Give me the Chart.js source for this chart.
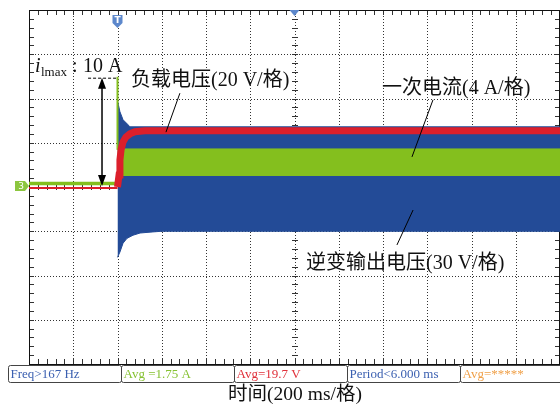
<!DOCTYPE html>
<html>
<head>
<meta charset="utf-8">
<script src="https://cdn.jsdelivr.net/npm/chart.js@4"></script>
<style>
  html, body { margin: 0; padding: 0; background: #fff; }
  #wrap { width: 560px; height: 405px; }
</style>
</head>
<body>
<div id="wrap"><canvas id="scopeChart" width="560" height="405"></canvas></div>
<script>
// Oscilloscope capture: time in ms (200 ms/div), amplitude in divisions

// inverter output voltage (blue envelope)
const blueTopT = [400, 411, 425, 447, 456, 2400];
const blueTopV = [1.95, 1.70, 1.52, 1.41, 1.36, 1.36];
const blueBotT = [400, 411, 425, 443, 470, 502, 547, 600, 2400];
const blueBotV = [-1.59, -1.47, -1.27, -1.16, -1.09, -1.04, -1.02, -1.00, -1.00];

// primary current (green)
const greenPreT = [0, 400];
const greenPreV = [0.08, 0.08];
const greenSpikeT = [400, 400];
const greenSpikeV = [0.84, 2.49];
const greenTopT = [400, 2400];
const greenTopV = [0.86, 0.86];
const greenBotT = [400, 2400];
const greenBotV = [0.26, 0.26];

// load voltage (red)
const redPreT = [0, 400];
const redPreV = [-0.02, -0.02];
const redT = [400, 407, 411, 416, 425, 438, 456, 479, 524, 2400];
const redV = [0.00, 0.27, 0.61, 0.84, 1.02, 1.13, 1.20, 1.25, 1.27, 1.27];

// measurement readouts
const readouts = [
  { text: 'Freq>167 Hz', color: '#3a5fb0' },
  { text: 'Avg =1.75 A', color: '#86c232' },
  { text: 'Avg=19.7 V', color: '#e0303a' },
  { text: 'Period<6.000 ms', color: '#3a5fb0' },
  { text: 'Avg=*****', color: '#f0a048' }
];

const BLUE = '#234b97';
const GREEN = '#84bf1e';
const RED = '#dc1f2b';
const SERIF = '"Liberation Serif", "Noto Sans CJK SC", serif';

function pts(ts, vs) {
  return ts.map((t, i) => ({ x: t, y: vs[i] }));
}

function line(data, color, width, fill) {
  return {
    data: data,
    borderColor: color,
    backgroundColor: color,
    borderWidth: width,
    pointRadius: 0,
    tension: 0,
    fill: fill === undefined ? false : fill
  };
}

// grid, minor ticks, frame, markers and annotations
const scopeDecor = {
  id: 'scopeDecor',
  beforeDatasetsDraw(chart) {
    const { ctx, chartArea: a, scales: { x, y } } = chart;
    const cx = Math.round(x.getPixelForValue(1200));
    const cy = Math.round(y.getPixelForValue(0));
    ctx.save();

    // dotted grid
    ctx.strokeStyle = '#333';
    ctx.lineWidth = 1;
    ctx.setLineDash([1, 2]);
    ctx.beginPath();
    for (let t = 200; t < 2400; t += 200) {
      const px = Math.round(x.getPixelForValue(t)) + 0.5;
      ctx.moveTo(px, a.top); ctx.lineTo(px, a.bottom);
    }
    for (let v = -3; v <= 3; v++) {
      const py = Math.round(y.getPixelForValue(v)) + 0.5;
      ctx.moveTo(a.left, py); ctx.lineTo(a.right, py);
    }
    ctx.stroke();
    ctx.setLineDash([]);

    // minor ticks every 1/5 division
    ctx.strokeStyle = '#333';
    ctx.beginPath();
    for (let i = 0; i <= 60; i++) {
      const px = Math.round(x.getPixelForValue(i * 40)) + 0.5;
      ctx.moveTo(px, a.top); ctx.lineTo(px, a.top + 5);
      ctx.moveTo(px, a.bottom); ctx.lineTo(px, a.bottom - 5);
      ctx.moveTo(px, cy - 3); ctx.lineTo(px, cy + 3);
    }
    for (let i = -20; i <= 20; i++) {
      const py = Math.round(y.getPixelForValue(i / 5)) + 0.5;
      ctx.moveTo(a.left, py); ctx.lineTo(a.left + 5, py);
      ctx.moveTo(a.right, py); ctx.lineTo(a.right - 5, py);
      ctx.moveTo(cx - 3, py); ctx.lineTo(cx + 3, py);
    }
    ctx.stroke();
    ctx.strokeStyle = '#111';
    ctx.strokeRect(a.left + 0.5, a.top + 0.5, a.right - a.left - 1, a.bottom - a.top);
    ctx.restore();
  },
  afterDraw(chart) {
    const { ctx, chartArea: a, scales: { x, y } } = chart;
    const P = (t, v) => [x.getPixelForValue(t), y.getPixelForValue(v)];
    ctx.save();

    // trigger marker
    const tx = x.getPixelForValue(400);
    ctx.fillStyle = '#5d88cc';
    ctx.beginPath();
    ctx.moveTo(tx - 5, 15); ctx.lineTo(tx + 5, 15); ctx.lineTo(tx + 5, 23);
    ctx.lineTo(tx, 28); ctx.lineTo(tx - 5, 23); ctx.closePath();
    ctx.fill();
    ctx.fillStyle = '#fff';
    ctx.font = 'bold 9px "DejaVu Sans", sans-serif';
    ctx.textAlign = 'center';
    ctx.textBaseline = 'middle';
    ctx.fillText('T', tx, 21);

    // horizontal position marker
    const mx = x.getPixelForValue(1200);
    ctx.fillStyle = '#5d88cc';
    ctx.beginPath();
    ctx.moveTo(mx - 5, a.top); ctx.lineTo(mx + 5, a.top); ctx.lineTo(mx, a.top + 6);
    ctx.closePath();
    ctx.fill();

    // channel 3 marker
    const gy = y.getPixelForValue(0.02);
    ctx.fillStyle = '#8cc63f';
    ctx.beginPath();
    ctx.moveTo(15, gy - 5); ctx.lineTo(25, gy - 5); ctx.lineTo(29, gy);
    ctx.lineTo(25, gy + 5); ctx.lineTo(15, gy + 5); ctx.closePath();
    ctx.fill();
    ctx.fillStyle = '#fff';
    ctx.font = '9px "DejaVu Sans", sans-serif';
    ctx.fillText('3', 21, gy + 0.5);

    // 10 A peak marker
    ctx.strokeStyle = '#000';
    ctx.fillStyle = '#000';
    ctx.lineWidth = 1;
    ctx.setLineDash([3, 2]);
    const [x1, y1] = P(267, 2.47);
    const [x2] = P(402, 2.47);
    ctx.beginPath(); ctx.moveTo(x1, y1 + 0.5); ctx.lineTo(x2, y1 + 0.5); ctx.stroke();
    ctx.setLineDash([]);
    const [ax, ayTop] = P(330, 2.47);
    const [, ayBot] = P(330, 0.02);
    ctx.lineWidth = 1.5;
    ctx.beginPath(); ctx.moveTo(ax, ayTop + 6); ctx.lineTo(ax, ayBot - 6); ctx.stroke();
    ctx.beginPath();
    ctx.moveTo(ax, ayTop); ctx.lineTo(ax - 4, ayTop + 11); ctx.lineTo(ax + 4, ayTop + 11); ctx.closePath();
    ctx.moveTo(ax, ayBot); ctx.lineTo(ax - 4, ayBot - 11); ctx.lineTo(ax + 4, ayBot - 11); ctx.closePath();
    ctx.fill();

    // leader lines
    ctx.lineWidth = 1;
    const leaders = [
      [682, 2.12, 619, 1.24],
      [1826, 1.97, 1731, 0.68],
      [1736, -0.52, 1663, -1.31]
    ];
    leaders.forEach(l => {
      const [p1x, p1y] = P(l[0], l[1]);
      const [p2x, p2y] = P(l[2], l[3]);
      ctx.beginPath(); ctx.moveTo(p1x, p1y); ctx.lineTo(p2x, p2y); ctx.stroke();
    });

    // labels
    ctx.textAlign = 'left';
    ctx.textBaseline = 'alphabetic';
    ctx.fillStyle = '#111';
    ctx.font = 'italic 20px ' + SERIF;
    ctx.fillText('i', 35, 72);
    ctx.font = '13px ' + SERIF;
    ctx.fillText('lmax', 41, 76);
    ctx.font = '20px ' + SERIF;
    ctx.fillText(':', 72, 72);
    ctx.fillText('10 A', 83, 72);
    ctx.fillText('负载电压(20 V/格)', 131, 86);
    ctx.fillText('一次电流(4 A/格)', 382, 94);
    ctx.fillText('逆变输出电压(30 V/格)', 306, 269);

    // readout boxes
    ctx.lineWidth = 1;
    ctx.font = '13px ' + SERIF;
    ctx.textBaseline = 'middle';
    readouts.forEach((r, i) => {
      const bx = 8.5 + i * 113;
      ctx.strokeStyle = '#444';
      ctx.beginPath();
      ctx.roundRect(bx, 365.5, 113, 17, 2);
      ctx.stroke();
      ctx.fillStyle = r.color;
      ctx.fillText(r.text, bx + 2, 374.5);
    });

    // time axis title
    ctx.fillStyle = '#111';
    ctx.textAlign = 'center';
    ctx.font = '19.5px ' + SERIF;
    ctx.fillText('时间(200 ms/格)', 295, 395);
    ctx.restore();
  }
};

const ctx = document.getElementById('scopeChart').getContext('2d');
new Chart(ctx, {
  type: 'line',
  data: {
    datasets: [
      line(pts(redT, redV), RED, 7),
      line(pts(redPreT, redPreV), RED, 2),
      line(pts(greenSpikeT, greenSpikeV), GREEN, 2),
      line(pts(greenPreT, greenPreV), GREEN, 3.5),
      line(pts(greenTopT, greenTopV), GREEN, 1, 5),
      line(pts(greenBotT, greenBotV), GREEN, 1),
      line(pts(blueTopT, blueTopV), BLUE, 1, 7),
      line(pts(blueBotT, blueBotV), BLUE, 1)
    ]
  },
  options: {
    responsive: false,
    animation: false,
    layout: { padding: { left: 29, top: 10, right: 0, bottom: 41 } },
    plugins: { legend: { display: false }, tooltip: { enabled: false } },
    scales: {
      x: {
        type: 'linear', min: 0, max: 2400,
        ticks: { display: false, stepSize: 200 },
        grid: { display: false, drawTicks: false },
        border: { display: false }
      },
      y: {
        type: 'linear', min: -4, max: 4,
        ticks: { display: false, stepSize: 1 },
        grid: { display: false, drawTicks: false },
        border: { display: false }
      }
    }
  },
  plugins: [scopeDecor]
});
</script>
</body>
</html>
